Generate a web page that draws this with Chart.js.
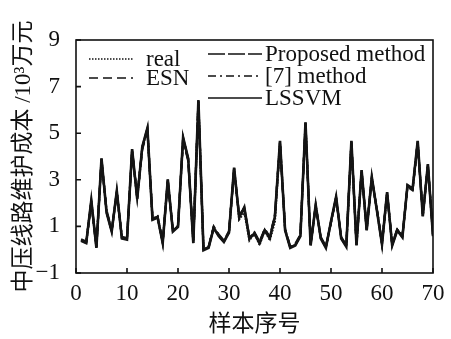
<!DOCTYPE html>
<html>
<head>
<meta charset="utf-8">
<script src="https://cdn.jsdelivr.net/npm/chart.js@4.4.0/dist/chart.umd.min.js"></script>
<style>
html,body{margin:0;padding:0;background:#fff;}
#wrap{width:451px;height:339px;}
</style>
</head>
<body>
<div id="wrap"><canvas id="c" width="451" height="339"></canvas></div>
<script>
const samples = [1,2,3,4,5,6,7,8,9,10,11,12,13,14,15,16,17,18,19,20,21,22,23,24,25,26,27,28,29,30,31,32,33,34,35,36,37,38,39,40,41,42,43,44,45,46,47,48,49,50,51,52,53,54,55,56,57,58,59,60,61,62,63,64,65,66,67,68,69,70];
const xTicks = [0,10,20,30,40,50,60,70];
const yTicks = [-1,1,3,5,7,9];
const seriesNames = ['real','ESN','Proposed method','[7] method','LSSVM'];

const realCost = [0.4,0.3,2.1,0.1,3.9,1.6,0.8,2.5,0.5,0.45, 4.3,2.2,4.4,5.2,1.3,1.4,0.3,3.0,0.8,1.0, 4.8,3.9,0.3,6.4,0.0,0.1,0.95,0.6,0.35,0.75, 3.5,1.3,1.6,0.4,0.7,0.2,0.85,0.4,1.2,4.6, 0.85,0.1,0.2,0.6,5.45,0.2,1.9,0.5,0.1,1.2, 2.25,0.5,0.15,4.65,0.2,3.4,0.85,3.1,1.7,0.25, 2.45,0.2,0.85,0.55,2.75,2.6,4.65,1.45,3.65,0.6];
const esnCost = [0.45,0.35,2.0,0.15,3.8,1.7,0.85,2.4,0.55,0.5, 4.2,2.3,4.3,5.1,1.4,1.45,0.35,2.9,0.85,1.05, 4.7,3.8,0.4,6.3,0.05,0.15,1.0,0.65,0.4,0.8, 3.4,1.5,1.75,0.55,0.75,0.35,0.9,0.55,1.5,4.55, 0.9,0.15,0.25,0.65,5.35,0.25,1.85,0.55,0.15,1.15, 2.2,0.55,0.2,4.55,0.25,3.3,0.9,3.05,1.75,0.3, 2.4,0.25,0.9,0.6,2.7,2.55,4.55,1.5,3.55,0.65];
const proposedCost = [0.4,0.3,2.1,0.1,3.9,1.6,0.8,2.5,0.5,0.45, 4.3,2.2,4.4,5.2,1.3,1.4,0.3,3.0,0.8,1.0, 4.8,3.9,0.3,6.4,0.0,0.1,0.95,0.6,0.35,0.75, 3.5,1.4,1.8,0.5,0.7,0.3,0.85,0.5,1.4,4.65, 0.85,0.1,0.2,0.6,5.45,0.2,1.9,0.5,0.1,1.2, 2.25,0.5,0.15,4.65,0.2,3.4,0.85,3.1,1.7,0.25, 2.45,0.2,0.85,0.55,2.75,2.6,4.65,1.45,3.65,0.6];
const method7Cost = [0.42,0.32,2.05,0.12,3.85,1.65,0.82,2.45,0.52,0.48, 4.25,2.25,4.35,5.15,1.35,1.42,0.32,2.95,0.82,1.02, 4.75,3.85,0.35,6.35,0.02,0.12,0.97,0.62,0.37,0.77, 3.45,1.45,1.78,0.52,0.72,0.32,0.87,0.52,1.45,4.6, 0.87,0.12,0.22,0.62,5.4,0.22,1.88,0.52,0.12,1.18, 2.22,0.52,0.17,4.6,0.22,3.35,0.87,3.08,1.72,0.27, 2.42,0.22,0.87,0.57,2.72,2.58,4.6,1.47,3.6,0.62];
const lssvmCost = [0.38,0.28,2.12,0.08,3.92,1.58,0.78,2.52,0.48,0.43, 4.32,2.18,4.42,5.22,1.28,1.38,0.28,3.02,0.78,0.98, 4.82,3.92,0.28,6.42,-0.02,0.08,0.93,0.58,0.33,0.73, 3.52,1.38,1.82,0.48,0.68,0.28,0.83,0.48,1.42,4.67, 0.83,0.08,0.18,0.58,5.47,0.18,1.92,0.48,0.08,1.22, 2.27,0.48,0.13,4.67,0.18,3.42,0.83,3.12,1.68,0.23, 2.47,0.18,0.83,0.53,2.77,2.62,4.67,1.43,3.67,0.58];

const seriesValues = [realCost, esnCost, proposedCost, method7Cost, lssvmCost];
const dashes = [[1.5,1.5],[9,5],[17,3],[8,4,2,4],[]];

const SERIF = '"Liberation Serif", "Noto Sans CJK SC", serif';

const datasets = seriesNames.map((name, k) => ({
  label: name,
  data: samples.map((s, i) => ({x: s, y: seriesValues[k][i]})),
  borderColor: '#151515',
  borderWidth: k === 4 ? 2.6 : 2.1,
  borderDash: dashes[k],
  pointRadius: 0,
  fill: false,
  tension: 0
}));

const framePlugin = {
  id: 'frame',
  afterDraw(chart) {
    const ctx = chart.ctx;
    const {left, right, top, bottom} = chart.chartArea;
    const xs = chart.scales.x, ys = chart.scales.y;
    ctx.save();
    ctx.strokeStyle = '#111';
    ctx.lineWidth = 1.6;
    ctx.setLineDash([]);
    ctx.strokeRect(left, top, right - left, bottom - top);
    ctx.beginPath();
    xs.ticks.forEach(t => {
      const px = xs.getPixelForValue(t.value);
      ctx.moveTo(px, bottom); ctx.lineTo(px, bottom - 5);
    });
    ys.ticks.forEach(t => {
      const py = ys.getPixelForValue(t.value);
      ctx.moveTo(left, py); ctx.lineTo(left + 5, py);
    });
    ctx.stroke();
    // legend
    const cols = [
      {idx: [0, 1], x0: 89, x1: 133, tx: 146, y0: 59, dy: 19},
      {idx: [2, 3, 4], x0: 208, x1: 262, tx: 265, y0: 54, dy: 22}
    ];
    ctx.font = '23px ' + SERIF;
    ctx.fillStyle = '#111';
    ctx.textBaseline = 'middle';
    ctx.textAlign = 'left';
    cols.forEach(c => {
      c.idx.forEach((k, j) => {
        const ds = chart.data.datasets[k];
        const yy = c.y0 + j * c.dy;
        ctx.beginPath();
        ctx.lineWidth = 1.6;
        ctx.setLineDash(ds.borderDash);
        ctx.moveTo(c.x0, yy); ctx.lineTo(c.x1, yy);
        ctx.stroke();
        ctx.setLineDash([]);
        ctx.fillText(ds.label, c.tx, yy + 1);
      });
    });
    ctx.restore();
  }
};

new Chart(document.getElementById('c'), {
  type: 'line',
  data: { datasets },
  options: {
    responsive: false,
    animation: false,
    devicePixelRatio: 1,
    layout: { padding: { top: 40, right: 18, left: 0, bottom: 0 } },
    plugins: { legend: { display: false }, tooltip: { enabled: false } },
    scales: {
      x: {
        type: 'linear', min: 0, max: 70,
        afterBuildTicks: s => { s.ticks = xTicks.map(v => ({value: v})); },
        grid: { display: false },
        border: { display: false },
        ticks: { color: '#111', font: { family: SERIF, size: 23 }, padding: -1, maxRotation: 0 },
        title: { display: true, text: '样本序号', color: '#111', font: { family: SERIF, size: 23 }, padding: { top: 0, bottom: 0 } },
        afterFit: s => { s.height = 66; }
      },
      y: {
        type: 'linear', min: -1, max: 9,
        afterBuildTicks: s => { s.ticks = yTicks.map(v => ({value: v})); },
        grid: { display: false },
        border: { display: false },
        ticks: { color: '#111', font: { family: SERIF, size: 23 }, padding: 8,
                 callback: v => String(v).replace('-', '−') },
        title: { display: true, text: '中压线路维护成本 /10³万元', color: '#111', font: { family: SERIF, size: 23 }, padding: { top: 10, bottom: 0 } },
        afterFit: s => { s.width = 76; }
      }
    }
  },
  plugins: [framePlugin]
});
</script>
</body>
</html>
